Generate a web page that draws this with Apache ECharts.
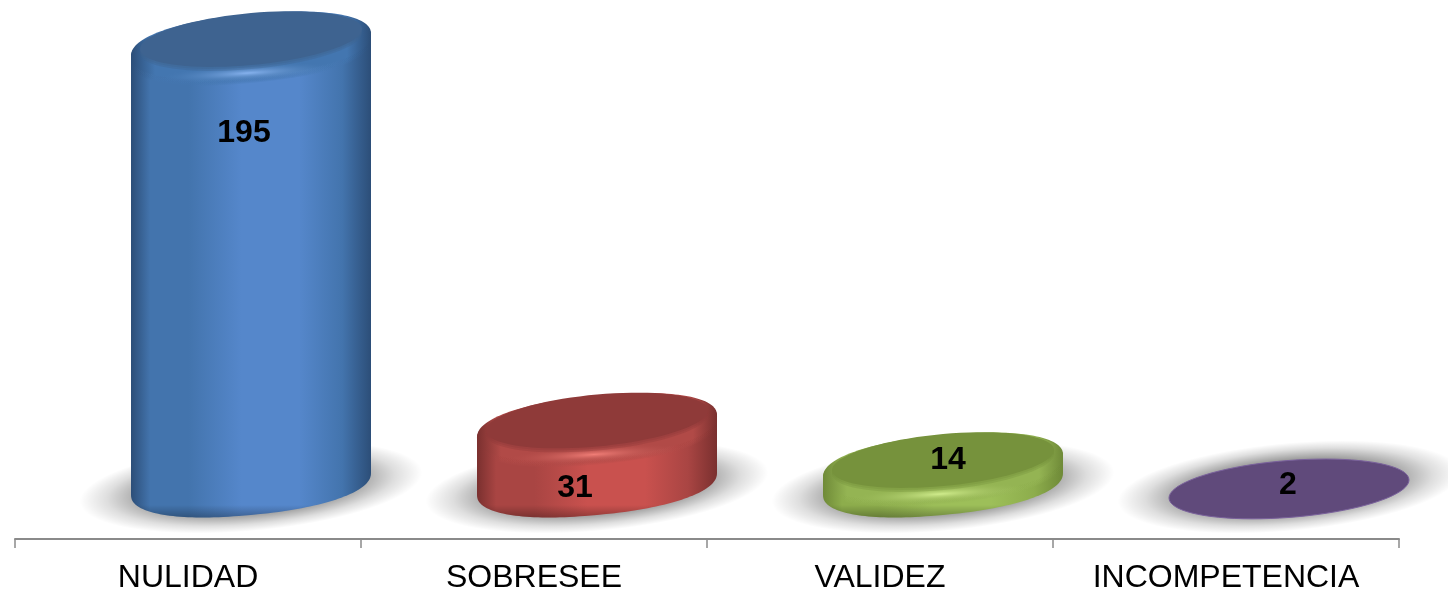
<!DOCTYPE html>
<html>
<head>
<meta charset="utf-8">
<style>
  html, body { margin: 0; padding: 0; background: #fff; }
  #chart { width: 1448px; height: 592px; }
</style>
<script src="https://cdn.jsdelivr.net/npm/echarts@6/dist/echarts.min.js"></script>
</head>
<body>
<div id="chart"></div>
<script>
// datos
const categories = ['NULIDAD', 'SOBRESEE', 'VALIDEZ', 'INCOMPETENCIA'];
const values = [195, 31, 14, 2];

// colores de cada cilindro
const palette = [
  { face: '#3e6390', edge: '#2c4e78', mid: '#4374ad', side: '#5587cb', glow: '#86b2ee', rim: '#4376b0' },
  { face: '#8f3a39', edge: '#7a302f', mid: '#a94543', side: '#c9514e', glow: '#f07d76', rim: '#b14a47' },
  { face: '#76923c', edge: '#6f8a38', mid: '#8dad4c', side: '#9dbf59', glow: '#d0ec8c', rim: '#94b453' },
  { face: '#604a7b', edge: '#604a7b', mid: '#604a7b', side: '#604a7b', glow: '#604a7b', rim: '#7a619c' }
];

const baseValue = 6.3;    // plano donde apoyan los cilindros
const shiftX = 63;        // la perspectiva 3D corre las barras a la derecha
const radiusX = 120;
const radiusY = 31;
const tilt = 11;
const round = 0.9;
const labelOffsets = [[-7, 88], [-22, 61.5], [5, -6], [-1, -9]];

// punto de la elipse inclinada; p < 1 la vuelve mas cuadrada (borde redondeado)
function ell(cx, cy, t, a, b, d, p) {
  const c = Math.cos(t);
  const s = Math.sin(t);
  const cp = Math.sign(c) * Math.pow(Math.abs(c), p);
  const sp = Math.sign(s) * Math.pow(Math.abs(s), p);
  return [cx + a * cp, cy - d * cp + b * sp];
}

function arc(cx, cy, from, to, a, b, d, p) {
  const pts = [];
  for (let i = 0; i <= 80; i++) {
    pts.push(ell(cx, cy, from + (to - from) * i / 80, a, b, d, p || 1));
  }
  return pts;
}

function hGrad(c) {
  return new echarts.graphic.LinearGradient(0, 0, 1, 0, [
    { offset: 0, color: c.edge },
    { offset: 0.08, color: c.mid },
    { offset: 0.24, color: c.mid },
    { offset: 0.46, color: c.side },
    { offset: 0.7, color: c.side },
    { offset: 0.88, color: c.mid },
    { offset: 1, color: c.edge }
  ]);
}

function rimGrad(c) {
  return new echarts.graphic.LinearGradient(0, 0, 1, 0, [
    { offset: 0, color: c.edge },
    { offset: 0.1, color: c.rim },
    { offset: 0.9, color: c.rim },
    { offset: 1, color: c.edge }
  ]);
}

function renderCylinder(params, api) {
  const i = api.value(0);
  const v = api.value(1);
  const top = api.coord([i, v]);
  const base = api.coord([i, baseValue]);
  const cx = top[0] + shiftX;
  const c = palette[i];
  const children = [];

  // sombra difusa
  children.push({
    type: 'circle',
    x: cx,
    y: base[1] + 3,
    scaleX: 172,
    scaleY: 44,
    rotation: 0.09,
    shape: { cx: 0, cy: 0, r: 1 },
    style: {
      fill: new echarts.graphic.RadialGradient(0.5, 0.5, 0.5, [
        { offset: 0, color: 'rgba(0,0,0,0.42)' },
        { offset: 0.62, color: 'rgba(0,0,0,0.38)' },
        { offset: 0.84, color: 'rgba(0,0,0,0.13)' },
        { offset: 1, color: 'rgba(0,0,0,0)' }
      ])
    }
  });

  if (v > baseValue + 4) {
    // cuerpo
    const body = arc(cx, top[1], Math.PI, Math.PI * 2, radiusX, radiusY, tilt, round)
      .concat(arc(cx, base[1], 0, Math.PI, radiusX, radiusY, tilt, round));
    children.push({ type: 'polygon', shape: { points: body }, style: { fill: hGrad(c) } });
    // borde oscuro de abajo
    children.push({
      type: 'polygon',
      shape: { points: arc(cx, base[1], 0, Math.PI, radiusX, radiusY, tilt, round) },
      style: {
        fill: new echarts.graphic.LinearGradient(0, 0, 0, 1, [
          { offset: 0, color: 'rgba(0,0,0,0)' },
          { offset: 0.72, color: 'rgba(0,0,0,0)' },
          { offset: 1, color: 'rgba(0,0,0,0.28)' }
        ])
      }
    });
    // bisel, con copias corridas hacia abajo para difuminar el borde
    [7, 6, 5, 4, 3, 2].forEach(function (dy) {
      children.push({
        type: 'polygon',
        shape: { points: arc(cx, top[1] + dy, 0, Math.PI * 2, radiusX, radiusY, tilt, round) },
        style: { fill: rimGrad(c), opacity: 0.22 }
      });
    });
    children.push({
      type: 'polygon',
      shape: { points: arc(cx, top[1] + 1, 0, Math.PI * 2, radiusX, radiusY, tilt, round) },
      style: { fill: rimGrad(c) }
    });
    // brillo del bisel
    children.push({
      type: 'circle',
      x: cx - 3,
      y: top[1] + 28,
      scaleX: 90,
      scaleY: 9,
      rotation: 0.06,
      shape: { cx: 0, cy: 0, r: 1 },
      style: {
        fill: new echarts.graphic.RadialGradient(0.5, 0.5, 0.5, [
          { offset: 0, color: c.glow },
          { offset: 1, color: c.rim + '00' }
        ])
      }
    });
    // cara superior
    [4, 2].forEach(function (dy) {
      children.push({
        type: 'polygon',
        shape: { points: arc(cx, top[1] - 6 + dy, 0, Math.PI * 2, radiusX - 9, radiusY - 5, tilt - 1) },
        style: { fill: c.face, opacity: 0.35 }
      });
    });
    children.push({
      type: 'polygon',
      shape: { points: arc(cx, top[1] - 6, 0, Math.PI * 2, radiusX - 9, radiusY - 5, tilt - 1) },
      style: { fill: c.face }
    });
  } else {
    // sin altura: solo el disco
    children.push({
      type: 'polygon',
      shape: { points: arc(cx, top[1] - 5, 0, Math.PI * 2, radiusX, 28.5, 9) },
      style: { fill: c.face, stroke: c.rim, lineWidth: 1 }
    });
  }

  children.push({
    type: 'text',
    x: cx + labelOffsets[i][0],
    y: top[1] + labelOffsets[i][1],
    style: {
      text: String(v),
      fill: '#000',
      font: 'bold 32px "Liberation Sans", Arial, sans-serif',
      align: 'center',
      verticalAlign: 'middle'
    }
  });

  return { type: 'group', children: children };
}

const myChart = echarts.init(document.getElementById('chart'));
let option = {
  animation: false,
  backgroundColor: '#fff',
  grid: {
    left: 15,
    right: 49,
    top: 0,
    bottom: 53,
    outerBoundsMode: 'none'
  },
  xAxis: {
    type: 'category',
    data: categories,
    axisLine: {
      onZero: false,
      lineStyle: { color: '#8a8a8a', width: 2 }
    },
    axisTick: {
      show: true,
      length: 9,
      lineStyle: { color: '#8a8a8a', width: 1.5 }
    },
    axisLabel: {
      color: '#000',
      fontFamily: '"Liberation Sans", Arial, sans-serif',
      fontSize: 32,
      margin: 23,
      interval: 0
    }
  },
  yAxis: {
    type: 'value',
    show: false,
    min: -17.37,
    max: 214.36,
    splitLine: { show: false }
  },
  series: [{
    type: 'custom',
    renderItem: renderCylinder,
    clip: false,
    encode: { x: 0, y: 1 },
    data: values.map((v, i) => [i, v])
  }]
};
myChart.setOption(option);
window.addEventListener('resize', function () {
  myChart.resize();
});
</script>
</body>
</html>
